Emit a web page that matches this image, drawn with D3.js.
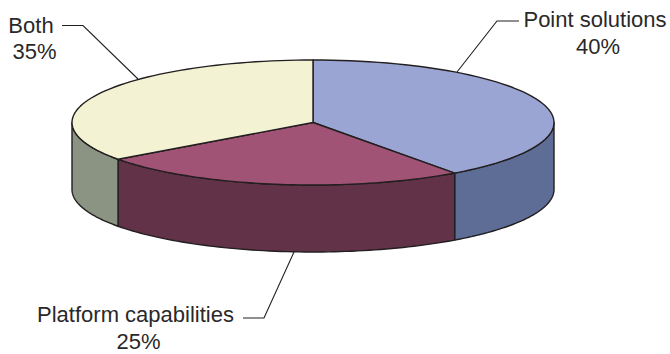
<!DOCTYPE html>
<html>
<head>
<meta charset="utf-8">
<script src="https://cdn.jsdelivr.net/npm/d3@7"></script>
<style>
  html, body { margin: 0; padding: 0; background: #fff; }
  svg { display: block; }
  text { font-family: "Liberation Sans", Arial, sans-serif; font-size: 22px; fill: #2b2829; }
</style>
</head>
<body>
<div id="chart"></div>
<script>
// Share of respondents by solution type
const categories = ["Point solutions", "Platform capabilities", "Both"];
const shares = [40, 25, 35];
const topColors = ["#9aa5d3", "#a05375", "#f3f2d2"];
const wallColors = ["#5d6d96", "#623248", "#8b9482"];

const width = 670, height = 354;
const cx = 313, cy = 122.5, rx = 241, ry = 62.5, depth = 67;
const outline = "#231f20";

const svg = d3.select("#chart").append("svg")
  .attr("width", width).attr("height", height);

const slices = d3.pie().sort(null).value(d => d)(shares);

// Project a pie angle (0 at twelve o'clock, clockwise) onto the tilted disc.
const px = d3.scaleLinear().domain([-1, 1]).range([cx - rx, cx + rx]);
const py = d3.scaleLinear().domain([-1, 1]).range([cy - ry, cy + ry]);
const point = (a, drop = 0) => [px(Math.sin(a)), py(-Math.cos(a)) + drop];
const steps = (a0, a1) => d3.range(0, 65).map(i => a0 + (a1 - a0) * i / 64);
const line = d3.line();

// Side walls: only the front half of the rim is visible.
const wallLayer = svg.append("g").attr("stroke", outline).attr("stroke-width", 1.4);
slices.forEach((s, i) => {
  const a0 = Math.max(s.startAngle, Math.PI / 2);
  const a1 = Math.min(s.endAngle, 3 * Math.PI / 2);
  if (a1 <= a0) return;
  const upper = steps(a0, a1).map(a => point(a));
  const lower = steps(a1, a0).map(a => point(a, depth));
  wallLayer.append("path")
    .attr("d", line(upper.concat(lower)) + "Z")
    .attr("fill", wallColors[i])
    .attr("stroke-linejoin", "round");
});

// Top face of the disc.
const faceLayer = svg.append("g").attr("stroke", outline).attr("stroke-width", 1.4);
slices.forEach((s, i) => {
  const rim = steps(s.startAngle, s.endAngle).map(a => point(a));
  faceLayer.append("path")
    .attr("d", line([[cx, cy], ...rim]) + "Z")
    .attr("fill", topColors[i])
    .attr("stroke-linejoin", "round");
});

// Leader lines and their labels.
const labels = [
  { i: 0, path: [[457, 72], [497, 21], [519, 21]], nameX: 595, pctX: 598, y: 27, gap: 27 },
  { i: 1, path: [[294, 252], [264, 318], [243, 318]], nameX: 135.5, pctX: 138.5, y: 322, gap: 27 },
  { i: 2, path: [[138, 79], [83, 25.5], [62, 25.5]], nameX: 31, pctX: 34.5, y: 32.5, gap: 26 }
];
const leaders = svg.append("g").attr("fill", "none").attr("stroke", outline).attr("stroke-width", 1.1);
const labelLayer = svg.append("g").attr("text-anchor", "middle");
labels.forEach(l => {
  leaders.append("path").attr("d", line(l.path));
  labelLayer.append("text").attr("x", l.nameX).attr("y", l.y).text(categories[l.i]);
  labelLayer.append("text").attr("x", l.pctX).attr("y", l.y + l.gap).text(shares[l.i] + "%");
});
</script>
</body>
</html>
